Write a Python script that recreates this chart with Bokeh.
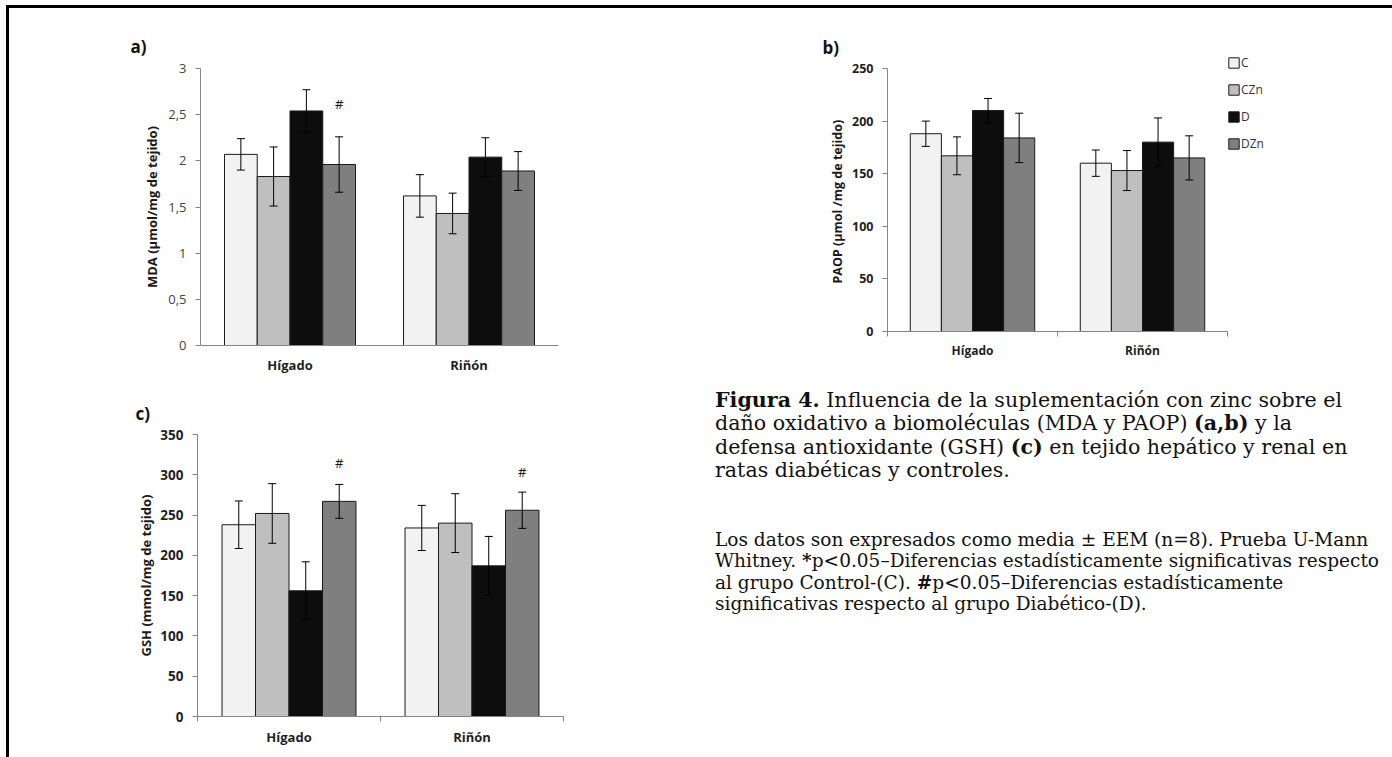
from bokeh.plotting import figure
from bokeh.models import (Range1d, FixedTicker, LinearAxis,
                          ColumnDataSource, Whisker, TeeHead, Legend, LegendItem, Div)
from bokeh.transform import dodge
from bokeh.layouts import row, column
from bokeh.embed import file_html
from bokeh.resources import INLINE
from bokeh.core.properties import value

FONT = "Open Sans"

# ---------------- data ----------------
categories = ["Hígado", "Riñón"]
groups = ["C", "CZn", "D", "DZn"]
group_colors = ["#f2f2f2", "#bfbfbf", "#0d0d0d", "#7f7f7f"]

# a) MDA (µmol/mg de tejido)
mda_mean = {"C": [2.07, 1.62], "CZn": [1.83, 1.43], "D": [2.54, 2.04], "DZn": [1.96, 1.89]}
mda_err = {"C": [0.17, 0.23], "CZn": [0.32, 0.22], "D": [0.23, 0.21], "DZn": [0.30, 0.21]}
mda_ticks = [0, 0.5, 1, 1.5, 2, 2.5, 3]
mda_tick_labels = ["0", "0,5", "1", "1,5", "2", "2,5", "3"]
mda_sig_cats = ["Hígado"]
mda_sig_y = [2.62]

# b) PAOP (µmol/mg de tejido)
paop_mean = {"C": [188, 160], "CZn": [167, 153], "D": [210, 180], "DZn": [184, 165]}
paop_err = {"C": [12, 12.5], "CZn": [18, 19], "D": [11.5, 23], "DZn": [23.5, 21]}
paop_ticks = [0, 50, 100, 150, 200, 250]
paop_tick_labels = ["0", "50", "100", "150", "200", "250"]

# c) GSH (mmol/mg de tejido)
gsh_mean = {"C": [238, 234], "CZn": [252, 240], "D": [156, 187], "DZn": [267, 256]}
gsh_err = {"C": [29.5, 28], "CZn": [37, 36.5], "D": [36, 36.5], "DZn": [21, 22.5]}
gsh_ticks = [0, 50, 100, 150, 200, 250, 300, 350]
gsh_tick_labels = ["0", "50", "100", "150", "200", "250", "300", "350"]
gsh_sig_cats = ["Hígado", "Riñón"]
gsh_sig_y = [315, 303]

caption_lines_1 = [
    "<b>Figura 4.</b> Influencia de la suplementación con zinc sobre el",
    "daño oxidativo a biomoléculas (MDA y PAOP) <b>(a,b)</b> y la",
    "defensa antioxidante (GSH) <b>(c)</b> en tejido hepático y renal en",
    "ratas diabéticas y controles.",
]
caption_lines_2 = [
    "Los datos son expresados como media ± EEM (n=8). Prueba U-Mann",
    "Whitney. <b>*</b>p&lt;0.05–Diferencias estadísticamente significativas respecto",
    "al grupo Control-(C). <b>#</b>p&lt;0.05–Diferencias estadísticamente",
    "significativas respecto al grupo Diabético-(D).",
]

BAR_W = 0.183
offsets = [(-1.5 + i) * BAR_W for i in range(4)]
AXIS_GRAY = "#868686"

# category slots on the x scale: one unit per category
cat_pos = {c: i + 0.5 for i, c in enumerate(categories)}
cat_bounds = list(range(len(categories) + 1))


def make_panel(mean, err, y_max, ticks, tick_labels, geom, tick_size, tick_bold, tick_standoff,
               cat_size, cat_standoff, boundary_ticks, ylabel, ylabel_size, ylabel_standoff,
               letter, letter_offset, letter_standoff, sig_cats=None, sig_y=None):
    left, fw, right, top, fh, bottom = geom
    p = figure(x_range=Range1d(0, len(categories)), y_range=Range1d(0, y_max),
               frame_width=fw, frame_height=fh,
               min_border_left=left, min_border_right=right,
               min_border_top=top, min_border_bottom=bottom,
               x_axis_location=None, toolbar_location=None, tools="",
               output_backend="svg")
    p.grid.visible = False
    p.outline_line_color = None
    p.background_fill_color = "white"
    p.border_fill_color = "white"

    # panel letter
    p.title.text = letter
    p.title.align = "left"
    p.title.offset = letter_offset
    p.title.standoff = letter_standoff
    p.title.text_font = FONT
    p.title.text_font_size = "17px"
    p.title.text_font_style = "bold"
    p.title.text_color = "#111111"

    renderers = []
    for g, off, col in zip(groups, offsets, group_colors):
        src = ColumnDataSource(dict(
            x=[cat_pos[c] for c in categories], top=mean[g],
            upper=[m + e for m, e in zip(mean[g], err[g])],
            lower=[m - e for m, e in zip(mean[g], err[g])]))
        r = p.vbar(x=dodge("x", off), top="top", bottom=0, width=BAR_W,
                   source=src, fill_color=col, line_color="#1a1a1a", line_width=1)
        renderers.append(r)
        w = Whisker(base=dodge("x", off), upper="upper", lower="lower",
                    source=src, line_color="black", line_width=1, level="annotation",
                    upper_head=TeeHead(size=8, line_color="black", line_width=1),
                    lower_head=TeeHead(size=8, line_color="black", line_width=1))
        p.add_layout(w)

    if sig_cats:
        ssrc = ColumnDataSource(dict(x=[cat_pos[c] for c in sig_cats], y=sig_y,
                                     t=["#"] * len(sig_cats)))
        p.text(x=dodge("x", offsets[3]), y="y", text="t", source=ssrc,
               text_align="center", text_baseline="middle", text_font=value(FONT),
               text_font_size="13px", text_color="#111111")

    # y axis
    ya = p.yaxis[0]
    ya.ticker = FixedTicker(ticks=ticks, minor_ticks=[])
    ya.major_label_overrides = {t: l for t, l in zip(ticks, tick_labels)}
    ya.axis_line_color = AXIS_GRAY
    ya.major_tick_line_color = AXIS_GRAY
    ya.major_tick_out = 5
    ya.major_tick_in = 0
    ya.minor_tick_line_color = None
    ya.major_label_standoff = tick_standoff
    ya.major_label_text_font = FONT
    ya.major_label_text_font_size = tick_size
    ya.major_label_text_font_style = "bold" if tick_bold else "normal"
    ya.major_label_text_color = "#1f1f1f" if tick_bold else "#444444"
    ya.axis_label = ylabel
    ya.axis_label_standoff = ylabel_standoff
    ya.axis_label_text_font = FONT
    ya.axis_label_text_font_size = ylabel_size
    ya.axis_label_text_font_style = "bold"
    ya.axis_label_text_color = "#1a1a1a"

    # x axis: labels at category centres, small ticks at category boundaries
    xa = LinearAxis(ticker=FixedTicker(ticks=[cat_pos[c] for c in categories],
                                       minor_ticks=cat_bounds if boundary_ticks else []),
                    major_label_overrides={cat_pos[c]: c for c in categories},
                    axis_line_color=AXIS_GRAY, major_tick_line_color=None,
                    major_tick_out=0, major_tick_in=0,
                    minor_tick_line_color=AXIS_GRAY if boundary_ticks else None,
                    minor_tick_out=5, minor_tick_in=0)
    xa.major_label_standoff = cat_standoff
    xa.major_label_text_font = FONT
    xa.major_label_text_font_size = cat_size
    xa.major_label_text_font_style = "bold"
    xa.major_label_text_color = "#1f1f1f"
    p.add_layout(xa, "below")
    return p, renderers


# ---------------- panel a ----------------
pa, _ = make_panel(mda_mean, mda_err, 3, mda_ticks, mda_tick_labels,
                   (191, 358, 132, 60, 277, 33), "13px", False, 9, "13px", 10, False,
                   "MDA (µmol/mg de tejido)", "13px", 4, "a)", -70, 21,
                   mda_sig_cats, mda_sig_y)

# ---------------- panel b ----------------
pb, rb = make_panel(paop_mean, paop_err, 250, paop_ticks, paop_tick_labels,
                    (197, 340, 160, 59, 263, 48), "12.5px", True, 9, "12px", 5, True,
                    "PAOP  (µmol /mg de tejido)", "12.5px", 3, "b)", -65, 19)
legend = Legend(items=[LegendItem(label=g, renderers=[r]) for g, r in zip(groups, rb)],
                location=(0, 179), orientation="vertical",
                glyph_width=13, glyph_height=13, label_height=13, label_width=20,
                spacing=10, padding=0, margin=0, label_standoff=1,
                border_line_color=None, background_fill_alpha=0,
                label_text_font=FONT, label_text_font_size="12px",
                label_text_color="#333333")
pb.add_layout(legend, "right")

# ---------------- panel c ----------------
pc, _ = make_panel(gsh_mean, gsh_err, 350, gsh_ticks, gsh_tick_labels,
                   (188, 366, 127, 56, 282, 39), "13.5px", True, 9, "13px", 6, True,
                   "GSH (mmol/mg de tejido)", "13px", 2, "c)", -62, 20,
                   gsh_sig_cats, gsh_sig_y)

# ---------------- caption ----------------
html = (
    '<div style="margin-left:20px; margin-top:6px; font-family:\'DejaVu Serif\', serif; '
    'color:#111; white-space:nowrap;">'
    '<div style="font-size:20.6px; line-height:23.4px;">' + "<br>".join(caption_lines_1) + '</div>'
    '<div style="font-size:18.55px; line-height:21.5px; margin-top:46px;">'
    + "<br>".join(caption_lines_2) + '</div>'
    '</div>'
)
cap = Div(text=html, width=697, height=377)

layout = column(
    row(pa, pb),
    row(pc, cap),
    styles={"border-top": "3px solid #000", "border-left": "3px solid #000",
            "border-right": "3px solid #000", "background": "white",
            "margin-left": "6px", "margin-top": "5px"},
)

open("out.html", "w").write(file_html(layout, INLINE))
